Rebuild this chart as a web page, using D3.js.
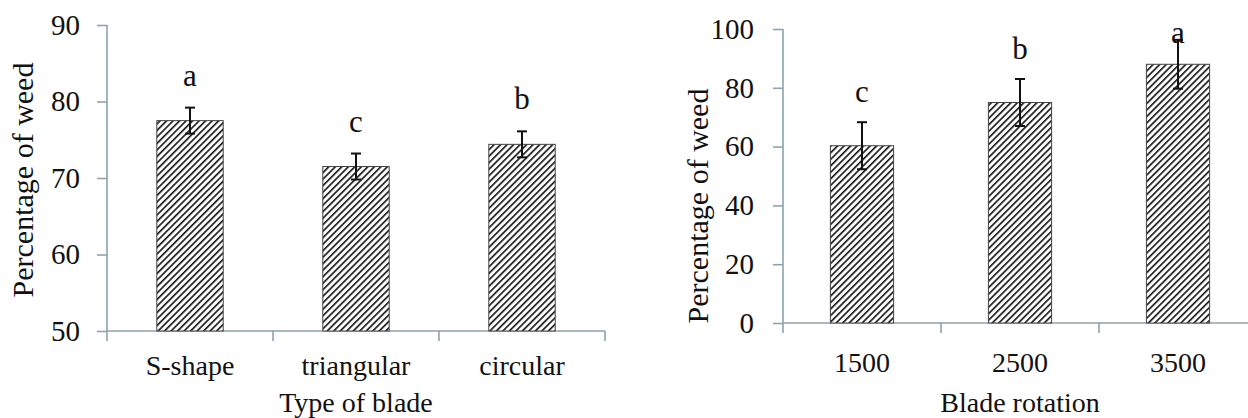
<!DOCTYPE html>
<html>
<head>
<meta charset="UTF-8">
<script src="https://d3js.org/d3.v7.min.js"></script>
<style>
  body { margin: 0; background: #fff; }
  svg, svg text { font-family: "Liberation Serif", "DejaVu Serif", serif !important; }
</style>
</head>
<body>
<div id="chart"></div>
<script>
// data
var bladeTypes = ["S-shape", "triangular", "circular"];
var bladeMeans = [77.5, 71.5, 74.4];
var bladeErr = [1.7, 1.7, 1.7];
var bladeLetters = ["a", "c", "b"];
var bladeTicks = [50, 60, 70, 80, 90];

var rotations = ["1500", "2500", "3500"];
var rotMeans = [60.3, 75, 88];
var rotErr = [8, 8, 8.3];
var rotLetters = ["c", "b", "a"];
var rotTicks = [0, 20, 40, 60, 80, 100];

var svg = d3.select("#chart").append("svg")
  .attr("width", 1248).attr("height", 418);

// hatch pattern
var pat = svg.append("defs").append("pattern")
  .attr("id", "hatch")
  .attr("patternUnits", "userSpaceOnUse")
  .attr("width", 4.6).attr("height", 4.6)
  .attr("patternTransform", "rotate(45)");
pat.append("rect").attr("width", 4.6).attr("height", 4.6).attr("fill", "#fff");
pat.append("line").attr("x1", 0).attr("y1", 0).attr("x2", 0).attr("y2", 4.6)
  .attr("stroke", "#111").attr("stroke-width", 3.2);

var axisColor = "#8fa3ad";

function drawPanel(opt) {
  var x = d3.scaleBand().domain(opt.cats).range([opt.x0, opt.x1]);
  var y = d3.scaleLinear().domain(opt.domain).range([opt.yb, opt.yt]);
  var g = svg.append("g").attr("fill", "#111");
  var bw = x.bandwidth() * opt.barFrac;

  // y axis
  var ya = g.append("g").attr("transform", "translate(" + opt.x0 + ",0)")
    .call(d3.axisLeft(y).tickValues(opt.ticks).tickSize(10).tickPadding(opt.tickPad));
  ya.select(".domain").remove();
  ya.append("line").attr("x1", 0).attr("x2", 0).attr("y1", opt.yt).attr("y2", opt.yb)
    .attr("stroke", axisColor).attr("stroke-width", 1.6);
  ya.selectAll(".tick line").attr("stroke", axisColor).attr("stroke-width", 1.6);
  ya.selectAll(".tick text").style("font-size", "29px").attr("fill", "#111");

  // x axis
  var xa = g.append("g").attr("transform", "translate(0," + opt.yb + ")");
  xa.append("line").attr("x1", opt.x0).attr("x2", opt.x1).attr("y1", 0).attr("y2", 0)
    .attr("stroke", axisColor).attr("stroke-width", 1.6);
  var edges = opt.cats.map(function(c) { return x(c); }).concat([opt.x1]);
  xa.selectAll(".xt").data(edges).enter().append("line")
    .attr("x1", function(d) { return d; }).attr("x2", function(d) { return d; })
    .attr("y1", 0).attr("y2", 10)
    .attr("stroke", axisColor).attr("stroke-width", 1.6);
  xa.selectAll(".xl").data(opt.cats).enter().append("text")
    .attr("x", function(d) { return x(d) + x.bandwidth() / 2; })
    .attr("y", opt.labelDy)
    .attr("text-anchor", "middle")
    .style("font-size", "28px")
    .text(function(d) { return d; });

  // bars
  g.selectAll(".bar").data(opt.cats).enter().append("rect")
    .attr("x", function(d) { return x(d) + (x.bandwidth() - bw) / 2; })
    .attr("y", function(d, i) { return y(opt.vals[i]); })
    .attr("width", bw)
    .attr("height", function(d, i) { return opt.yb - y(opt.vals[i]); })
    .attr("fill", "url(#hatch)")
    .attr("stroke", "#444").attr("stroke-width", 1);

  // error bars and letters
  opt.cats.forEach(function(c, i) {
    var cx = x(c) + x.bandwidth() / 2;
    var hi = y(opt.vals[i] + opt.err[i]), lo = y(opt.vals[i] - opt.err[i]);
    g.append("line").attr("x1", cx).attr("x2", cx).attr("y1", hi).attr("y2", lo)
      .attr("stroke", "#111").attr("stroke-width", 2);
    [hi, lo].forEach(function(yy) {
      g.append("line").attr("x1", cx - 5).attr("x2", cx + 5).attr("y1", yy).attr("y2", yy)
        .attr("stroke", "#111").attr("stroke-width", 2);
    });
    g.append("text").attr("x", cx).attr("y", Math.max(hi - opt.letterGap, opt.letterMin))
      .attr("text-anchor", "middle").style("font-size", "31px")
      .text(opt.letters[i]);
  });

  // axis titles
  g.append("text")
    .attr("transform", "translate(" + opt.ylabX + "," + opt.ylabY + ") rotate(-90)")
    .attr("text-anchor", "middle").style("font-size", "30px")
    .text("Percentage of weed");
  g.append("text")
    .attr("x", (opt.x0 + opt.x1) / 2).attr("y", opt.titleY)
    .attr("text-anchor", "middle").style("font-size", "28px")
    .text(opt.xTitle);
}

drawPanel({
  cats: bladeTypes, vals: bladeMeans, err: bladeErr, letters: bladeLetters,
  ticks: bladeTicks, domain: [50, 90],
  x0: 107, x1: 605, yt: 25, yb: 331, barFrac: 0.4, tickPad: 17,
  labelDy: 44, titleY: 412, ylabX: 33, ylabY: 180, letterGap: 22, letterMin: 0,
  xTitle: "Type of blade"
});

drawPanel({
  cats: rotations, vals: rotMeans, err: rotErr, letters: rotLetters,
  ticks: rotTicks, domain: [0, 100],
  x0: 783, x1: 1257, yt: 29, yb: 323, barFrac: 0.4, tickPad: 19,
  labelDy: 49, titleY: 412, ylabX: 708, ylabY: 206, letterGap: 20, letterMin: 43,
  xTitle: "Blade rotation"
});
</script>
</body>
</html>
